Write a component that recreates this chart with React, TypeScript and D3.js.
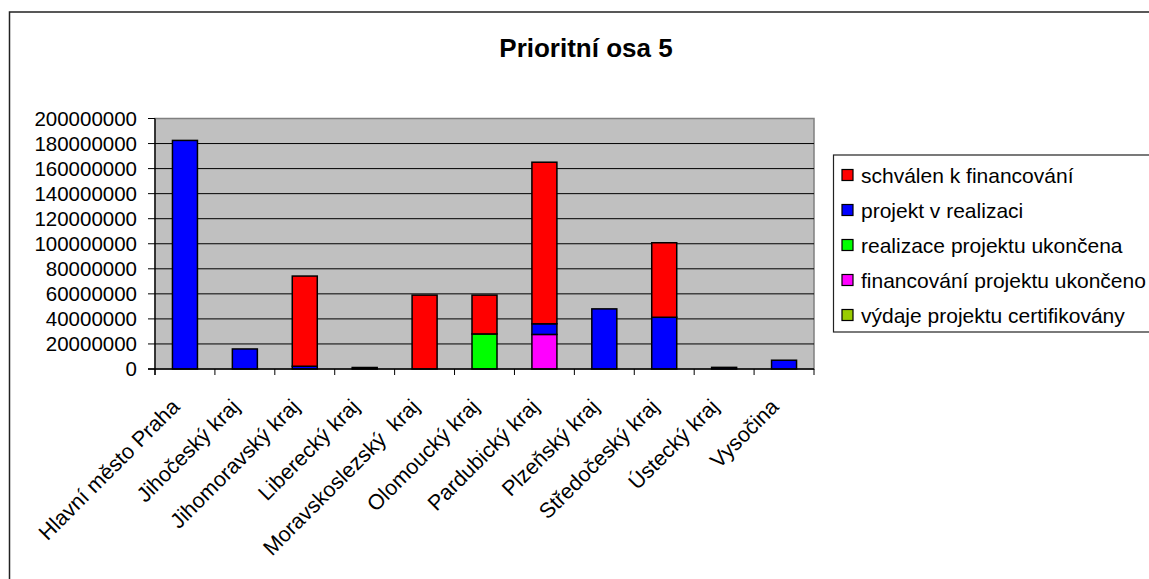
import React, { useEffect, useRef } from "react";
import * as d3 from "d3";

const categories = [
  "Hlavní město Praha",
  "Jihočeský kraj",
  "Jihomoravský kraj",
  "Liberecký kraj",
  "Moravskoslezský  kraj",
  "Olomoucký kraj",
  "Pardubický kraj",
  "Plzeňský kraj",
  "Středočeský kraj",
  "Ústecký kraj",
  "Vysočina",
];

// legend order (top to bottom)
const seriesNames = [
  "schválen k financování",
  "projekt v realizaci",
  "realizace projektu ukončena",
  "financování projektu ukončeno",
  "výdaje projektu certifikovány",
];
const seriesColors = ["#FF0000", "#0000FF", "#00FF00", "#FF00FF", "#99CC00"];

const schvalen = [0, 0, 72000000, 0, 59000000, 31000000, 129000000, 0, 59500000, 0, 0];
const vRealizaci = [182500000, 16000000, 2200000, 1200000, 0, 0, 8500000, 48000000, 41300000, 1300000, 7000000];
const ukoncena = [0, 0, 0, 0, 0, 28000000, 0, 0, 0, 0, 0];
const financovaniUkonceno = [0, 0, 0, 0, 0, 0, 27600000, 0, 0, 0, 0];
const certifikovany = [0, 0, 0, 0, 0, 0, 0, 0, 0, 0, 0];

const yTicks = [0, 20000000, 40000000, 60000000, 80000000, 100000000, 120000000, 140000000, 160000000, 180000000, 200000000];

const title = "Prioritní osa 5";

export default function App() {
  const ref = useRef<SVGSVGElement>(null);

  useEffect(() => {
    document.body.style.margin = "0";
    const svg = d3.select(ref.current);
    svg.selectAll("*").remove();
    const font = "'Liberation Sans', Arial, sans-serif";

    const W = 1149, H = 579;
    const left = 155, right = 814, top = 118.5, bottom = 369;

    svg.append("rect").attr("x", 0).attr("y", 0).attr("width", W).attr("height", H).attr("fill", "#fff");
    // outer chart border
    svg.append("rect").attr("x", 9.5).attr("y", 12).attr("width", 1300).attr("height", 800)
      .attr("fill", "none").attr("stroke", "#222").attr("stroke-width", 1.5);

    svg.append("text").attr("x", 586).attr("y", 57).attr("text-anchor", "middle")
      .attr("font-family", font).attr("font-weight", "bold").attr("font-size", 26).text(title);

    const x = d3.scaleBand<string>().domain(categories).range([left, right]).paddingInner(0).paddingOuter(0);
    const y = d3.scaleLinear().domain([0, 200000000]).range([bottom, top]);

    // plot area
    svg.append("rect").attr("x", left).attr("y", top).attr("width", right - left).attr("height", bottom - top)
      .attr("fill", "#C0C0C0").attr("stroke", "#808080").attr("stroke-width", 1.5);

    // gridlines
    svg.append("g").selectAll("line").data(yTicks.filter(t => t > 0 && t < 200000000)).join("line")
      .attr("x1", left).attr("x2", right).attr("y1", d => y(d)).attr("y2", d => y(d))
      .attr("stroke", "#000").attr("stroke-width", 1);

    // stacked data, bottom series = last in legend
    const seriesData = [schvalen, vRealizaci, ukoncena, financovaniUkonceno, certifikovany];
    const rows = categories.map((c, i) => {
      const r: any = { cat: c };
      seriesNames.forEach((s, k) => (r[s] = seriesData[k][i]));
      return r;
    });
    const stack = d3.stack<any>().keys(seriesNames.slice().reverse());
    const stacked = stack(rows);
    const barW = 25;

    stacked.forEach(layer => {
      const k = seriesNames.indexOf(layer.key);
      svg.append("g").selectAll("rect").data(layer.filter(d => d[1] - d[0] > 0)).join("rect")
        .attr("x", d => (x(d.data.cat) as number) + x.bandwidth() / 2 - barW / 2)
        .attr("width", barW)
        .attr("y", d => y(d[1]))
        .attr("height", d => y(d[0]) - y(d[1]))
        .attr("fill", seriesColors[k])
        .attr("stroke", "#000").attr("stroke-width", 1.5);
    });

    // y axis
    const yAxis = svg.append("g");
    yAxis.append("line").attr("x1", left).attr("x2", left).attr("y1", top).attr("y2", bottom + 6).attr("stroke", "#000").attr("stroke-width", 1.3);
    yAxis.selectAll("line.t").data(yTicks).join("line").attr("class", "t")
      .attr("x1", left - 7).attr("x2", left).attr("y1", d => y(d)).attr("y2", d => y(d)).attr("stroke", "#000");
    yAxis.selectAll("text").data(yTicks).join("text")
      .attr("x", 137).attr("y", d => y(d)).attr("dy", "0.36em").attr("text-anchor", "end")
      .attr("font-family", font).attr("font-size", 20.5).text(d => String(d));

    // x axis
    const xAxis = svg.append("g");
    xAxis.append("line").attr("x1", left - 7).attr("x2", right).attr("y1", bottom).attr("y2", bottom).attr("stroke", "#000").attr("stroke-width", 1.3);
    const bounds = categories.map(c => x(c) as number).concat([right]);
    xAxis.selectAll("line.t").data(bounds).join("line").attr("class", "t")
      .attr("x1", d => d).attr("x2", d => d).attr("y1", bottom).attr("y2", bottom + 6).attr("stroke", "#000");
    xAxis.selectAll("text").data(categories).join("text")
      .attr("transform", d => `translate(${(x(d) as number) + x.bandwidth() / 2 - 4},${bottom + 39}) rotate(-45)`)
      .attr("text-anchor", "end").style("white-space", "pre")
      .attr("font-family", font).attr("font-size", 21.5).text(d => d);

    // legend
    const lg = svg.append("g");
    lg.append("rect").attr("x", 833.5).attr("y", 155).attr("width", 400).attr("height", 177)
      .attr("fill", "#fff").attr("stroke", "#222").attr("stroke-width", 1.2);
    seriesNames.forEach((s, i) => {
      const cy = 175 + i * 35;
      lg.append("rect").attr("x", 842).attr("y", cy - 5.5).attr("width", 11).attr("height", 11)
        .attr("fill", seriesColors[i]).attr("stroke", "#000").attr("stroke-width", 1.2);
      lg.append("text").attr("x", 861).attr("y", cy).attr("dy", "0.36em")
        .attr("font-family", font).attr("font-size", 21).text(s);
    });
  }, []);

  return <svg ref={ref} width={1149} height={579} style={{ display: "block" }} />;
}
